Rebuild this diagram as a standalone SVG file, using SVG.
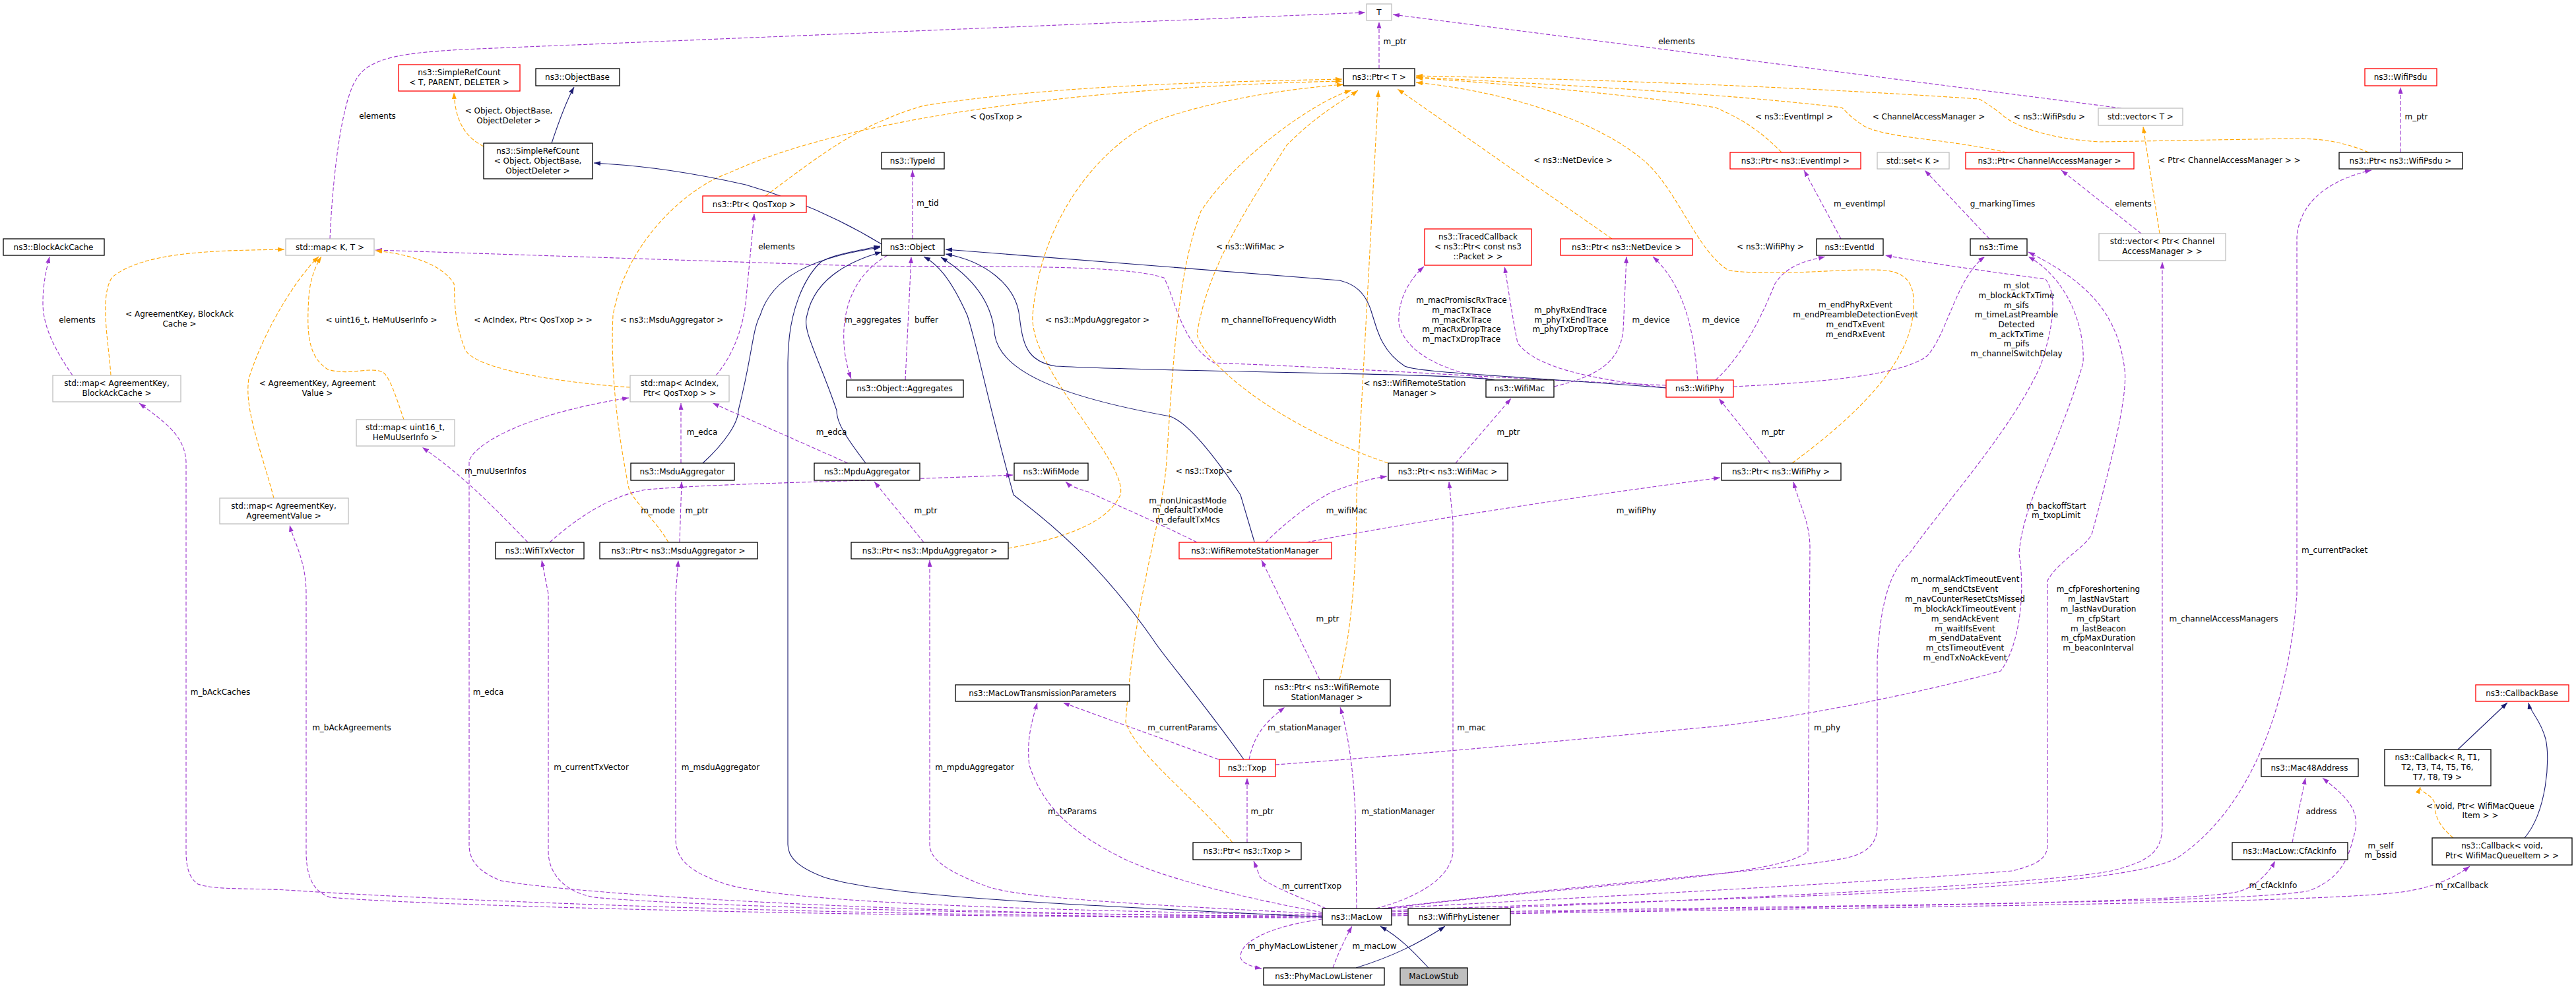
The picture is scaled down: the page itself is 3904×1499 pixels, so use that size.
<svg xmlns="http://www.w3.org/2000/svg" width="3904" height="1499" viewBox="0 0 3904 1499">
<style>
text{font-family:"DejaVu Sans","Liberation Sans",sans-serif;font-size:12px;fill:#000;text-anchor:middle}
.n rect{fill:#fff;stroke:#000;stroke-width:1.3}
.n.r rect{stroke:#ff0000}
.n.g rect{stroke:#bfbfbf}
.n.s rect{fill:#bfbfbf}
#edges path{fill:none;stroke-width:1.1}
.u{stroke:#9a32cd;stroke-dasharray:6,3}
.t{stroke:#ffa500;stroke-dasharray:6,3}
.i{stroke:#191970}
.u{marker-end:url(#mp)}.t{marker-end:url(#mo)}.i{marker-end:url(#mi)}
</style>
<defs>
<marker id="mp" markerUnits="userSpaceOnUse" markerWidth="11" markerHeight="8" refX="10" refY="3.5" orient="auto"><path d="M0,0L10,3.5L0,7z" fill="#9a32cd"/></marker>
<marker id="mo" markerUnits="userSpaceOnUse" markerWidth="11" markerHeight="8" refX="10" refY="3.5" orient="auto"><path d="M0,0L10,3.5L0,7z" fill="#ffa500"/></marker>
<marker id="mi" markerUnits="userSpaceOnUse" markerWidth="11" markerHeight="8" refX="10" refY="3.5" orient="auto"><path d="M0,0L10,3.5L0,7z" fill="#191970"/></marker>
</defs>
<rect width="3904" height="1499" fill="#fff"/>
<g id="edges">
<path class="u" d="M500,362 C505,250 520,150 540,120 C560,85 620,80 700,75 L2069,19"/>
<path class="u" d="M2090,104 L2090,33"/>
<path class="u" d="M3215,164 L2111,22"/>
<path class="u" d="M110,569 C90,540 65,500 65,460 C65,430 70,410 75,389"/>
<path class="u" d="M1085,569 C1110,540 1125,500 1130,460 L1143,324"/>
<path class="u" d="M1383,362 L1383,258"/>
<path class="u" d="M1345,387 C1270,430 1270,520 1290,574"/>
<path class="u" d="M1372,576 L1381,389"/>
<path class="u" d="M2525,584 C2200,570 2100,560 1840,550 C1790,520 1780,450 1764,421 C1700,400 1500,405 1300,403 L569,379"/>
<path class="u" d="M2265,576 C2200,565 2130,540 2120,490 C2118,450 2140,420 2158,404"/>
<path class="u" d="M2527,588 C2420,575 2330,560 2300,520 C2290,470 2285,430 2280,404"/>
<path class="u" d="M2355,586 C2420,570 2455,550 2460,500 L2465,389"/>
<path class="u" d="M2573,576 C2568,520 2560,440 2505,389"/>
<path class="u" d="M2600,576 C2640,540 2670,480 2690,430 C2710,400 2740,395 2766,389"/>
<path class="u" d="M2627,586 C2750,580 2880,570 2920,540 C2950,510 2965,420 3008,389"/>
<path class="u" d="M2790,362 L2734,258"/>
<path class="u" d="M3015,362 L2917,258"/>
<path class="u" d="M3245,354 L3124,258"/>
<path class="u" d="M3638,231 L3638,132"/>
<path class="u" d="M2109,1380 C2600,1360 3200,1355 3300,1300 C3420,1220 3470,1050 3481,900 L3481,360 C3485,300 3540,270 3594,258"/>
<path class="u" d="M2109,1382 C2600,1365 3100,1340 3200,1320 C3260,1305 3277,1290 3277,1250 L3277,397"/>
<path class="u" d="M3474,1277 L3494,1179"/>
<path class="u" d="M2109,1385 C2800,1370 3400,1370 3500,1350 C3550,1330 3560,1300 3570,1256 C3575,1220 3545,1200 3520,1179"/>
<path class="u" d="M2109,1386 C2700,1375 3300,1370 3390,1352 C3420,1345 3440,1320 3448,1305"/>
<path class="u" d="M2109,1388 C2800,1375 3500,1370 3640,1352 C3690,1345 3720,1330 3743,1313"/>
<path class="u" d="M2100,1377 C2400,1340 2700,1330 2740,1290 L2743,830 C2743,790 2725,760 2718,730"/>
<path class="u" d="M2683,702 L2605,604"/>
<path class="u" d="M2085,1377 C2150,1360 2200,1330 2202,1290 L2202,790 L2196,730"/>
<path class="u" d="M2206,702 L2290,604"/>
<path class="u" d="M1918,822 C1950,790 1990,760 2020,745 C2060,730 2080,725 2102,722"/>
<path class="u" d="M1980,822 C2200,780 2450,745 2607,724"/>
<path class="u" d="M1814,822 C1750,790 1680,760 1648,745 C1630,740 1620,735 1615,730"/>
<path class="u" d="M833,822 C880,780 930,750 980,742 C1100,732 1300,730 1535,720"/>
<path class="u" d="M800,822 C740,760 700,720 640,678"/>
<path class="u" d="M1032,702 L1032,611"/>
<path class="u" d="M1285,702 L1080,611"/>
<path class="u" d="M2004,1388 C1500,1390 900,1360 760,1335 C720,1320 711,1300 711,1280 L711,700 C713,680 780,630 953,603"/>
<path class="u" d="M1030,822 L1033,730"/>
<path class="u" d="M1400,822 L1325,730"/>
<path class="u" d="M2004,1390 C1200,1390 600,1360 450,1350 C380,1345 330,1350 300,1340 C285,1330 282,1310 282,1290 L282,700 C280,660 250,640 211,611"/>
<path class="u" d="M2004,1391 C1200,1390 600,1370 500,1360 C470,1350 464,1320 464,1290 L464,900 C464,850 445,820 439,796"/>
<path class="u" d="M2004,1389 C1400,1385 1000,1370 900,1360 C850,1350 831,1320 831,1290 L831,900 L821,849"/>
<path class="u" d="M2004,1387 C1600,1380 1200,1370 1100,1340 C1040,1320 1024,1300 1024,1270 L1024,900 L1028,849"/>
<path class="u" d="M2004,1385 C1700,1370 1550,1360 1500,1345 C1430,1320 1409,1300 1409,1280 L1409,849"/>
<path class="u" d="M2004,1383 C1880,1360 1760,1330 1700,1300 C1620,1260 1580,1220 1560,1160 C1555,1120 1565,1090 1572,1065"/>
<path class="u" d="M1847,1151 L1611,1065"/>
<path class="u" d="M1893,1151 C1900,1120 1910,1100 1947,1072"/>
<path class="u" d="M2056,1377 L2054,1230 C2050,1150 2040,1100 2031,1072"/>
<path class="u" d="M2000,1030 L1912,849"/>
<path class="u" d="M1890,1277 L1890,1179"/>
<path class="u" d="M2010,1377 C1970,1360 1930,1345 1910,1330 L1900,1305"/>
<path class="u" d="M2095,1377 C2400,1340 2700,1320 2800,1300 C2840,1290 2845,1270 2845,1250 L2845,1000 C2850,900 2870,860 2893,840 C2950,760 3050,650 3093,553 C3110,500 3120,450 3100,423 C3000,410 2900,395 2857,387"/>
<path class="u" d="M2100,1377 C2400,1360 2800,1340 3050,1320 C3090,1310 3103,1300 3103,1280 L3103,880 C3120,850 3160,830 3170,810 C3200,700 3225,600 3220,560 C3210,480 3170,430 3074,382"/>
<path class="u" d="M1933,1159 C2200,1140 2500,1110 2600,1101 C2750,1085 2950,1040 3032,1017 C3060,980 3070,900 3060,840 C3065,760 3120,680 3157,550 C3160,490 3130,420 3074,389"/>
<path class="u" d="M2004,1393 C1950,1400 1880,1420 1880,1450 C1880,1460 1900,1466 1912,1468"/>
<path class="u" d="M2020,1467 C2030,1440 2040,1420 2049,1404"/>
<path class="t" d="M733,222 C710,210 690,190 688,140"/>
<path class="t" d="M1160,297 C1250,230 1300,190 1400,160 C1600,130 1800,125 2034,120"/>
<path class="t" d="M1013,822 C995,790 960,760 953,740 C935,650 925,560 929,478 C950,360 1050,280 1103,263 C1300,170 1700,130 2034,123"/>
<path class="t" d="M1528,831 C1620,815 1680,790 1698,750 C1710,700 1560,560 1565,478 C1580,300 1700,200 1760,180 C1850,150 1950,135 2036,128"/>
<path class="t" d="M1868,1277 C1800,1200 1720,1140 1706,1094 C1720,900 1760,800 1768,700 C1780,500 1790,400 1820,320 C1880,230 2000,150 2048,137"/>
<path class="t" d="M2104,702 C1950,650 1830,560 1814,507 C1830,400 1900,300 1950,220 C2000,170 2040,150 2058,137"/>
<path class="t" d="M2030,1030 C2050,950 2056,850 2056,750 L2075,400 L2089,137"/>
<path class="t" d="M2443,362 L2118,135"/>
<path class="t" d="M2716,702 C2800,640 2890,560 2899,478 C2905,430 2890,415 2860,410 C2800,405 2700,420 2620,410 C2570,380 2540,280 2486,239 C2400,170 2250,135 2146,125"/>
<path class="t" d="M2700,231 C2670,200 2640,180 2600,163 C2450,140 2250,125 2146,118"/>
<path class="t" d="M3041,231 C2950,210 2860,210 2825,191 C2800,175 2795,165 2791,163 C2600,140 2300,125 2146,117"/>
<path class="t" d="M3590,231 C3540,210 3500,210 3473,210 L3182,215 C3100,210 3050,190 3032,172 C3010,155 2999,150 2999,150 C2700,130 2400,120 2146,115"/>
<path class="t" d="M3273,354 L3248,192"/>
<path class="t" d="M168,569 C165,520 150,450 170,420 C220,380 330,380 431,378"/>
<path class="t" d="M415,755 C395,680 370,620 377,574 C400,500 450,420 483,389"/>
<path class="t" d="M612,636 C600,600 590,570 580,564 C560,555 530,570 497,560 C465,540 465,500 468,450 C470,420 480,400 487,389"/>
<path class="t" d="M955,587 C850,580 720,560 705,530 C685,480 690,440 688,430 C670,400 620,385 569,380"/>
<path class="t" d="M3718,1270 C3700,1255 3690,1240 3690,1220 C3690,1205 3665,1200 3668,1193"/>
<path class="i" d="M836,217 C845,190 860,150 870,132"/>
<path class="i" d="M1336,370 C1270,330 1200,300 1130,280 C1020,255 950,250 900,247"/>
<path class="i" d="M1065,702 C1100,670 1119,640 1119,622 C1140,540 1140,500 1152,478 C1170,420 1230,390 1334,375"/>
<path class="i" d="M1312,702 C1280,660 1268,640 1268,622 C1240,540 1215,500 1223,478 C1235,420 1290,395 1336,382"/>
<path class="i" d="M1901,821 L1880,750 C1840,690 1800,640 1773,631 C1600,600 1510,560 1507,502 C1500,440 1450,405 1426,390"/>
<path class="i" d="M2265,576 C2200,565 1800,565 1600,555 C1555,548 1550,520 1545,480 C1540,430 1490,395 1433,385"/>
<path class="i" d="M2525,588 C2300,570 2150,565 2129,555 C2090,530 2085,490 2080,478 C2070,440 2050,430 2030,425 L1433,378"/>
<path class="i" d="M1885,1151 C1820,1060 1760,990 1748,970 C1650,830 1560,770 1536,750 C1500,620 1480,520 1466,478 C1440,420 1420,400 1400,389"/>
<path class="i" d="M2004,1390 C1600,1370 1350,1360 1250,1330 C1210,1315 1194,1300 1194,1280 L1194,550 C1194,470 1220,420 1244,397 C1265,385 1300,380 1334,373"/>
<path class="i" d="M2165,1467 C2140,1440 2120,1420 2092,1404"/>
<path class="i" d="M2055,1467 C2110,1450 2150,1430 2190,1404"/>
<path class="i" d="M3725,1136 L3800,1065"/>
<path class="i" d="M3826,1270 C3860,1230 3865,1150 3858,1120 C3850,1090 3835,1080 3832,1065"/>
</g>
<g id="labels">
<text x="572" y="180">elements</text>
<text x="771" y="172">&lt; Object, ObjectBase,</text><text x="771" y="187">ObjectDeleter &gt;</text>
<text x="1177" y="378">elements</text>
<text x="117" y="489">elements</text>
<text x="272" y="480">&lt; AgreementKey, BlockAck</text><text x="272" y="495">Cache &gt;</text>
<text x="578" y="489">&lt; uint16_t, HeMuUserInfo &gt;</text>
<text x="808" y="489">&lt; AcIndex, Ptr&lt; QosTxop &gt; &gt;</text>
<text x="1018" y="489">&lt; ns3::MsduAggregator &gt;</text>
<text x="481" y="585">&lt; AgreementKey, Agreement</text><text x="481" y="600">Value &gt;</text>
<text x="1064" y="659">m_edca</text>
<text x="1260" y="659">m_edca</text>
<text x="751" y="718">m_muUserInfos</text>
<text x="2114" y="67">m_ptr</text>
<text x="2541" y="67">elements</text>
<text x="1510" y="181">&lt; QosTxop &gt;</text>
<text x="1406" y="312">m_tid</text>
<text x="1323" y="489">m_aggregates</text>
<text x="1404" y="489">buffer</text>
<text x="1895" y="378">&lt; ns3::WifiMac &gt;</text>
<text x="1663" y="489">&lt; ns3::MpduAggregator &gt;</text>
<text x="1938" y="489">m_channelToFrequencyWidth</text>
<text x="2215" y="459">m_macPromiscRxTrace</text><text x="2215" y="474">m_macTxTrace</text><text x="2215" y="489">m_macRxTrace</text><text x="2215" y="503">m_macRxDropTrace</text><text x="2215" y="518">m_macTxDropTrace</text>
<text x="2380" y="474">m_phyRxEndTrace</text><text x="2380" y="489">m_phyTxEndTrace</text><text x="2380" y="503">m_phyTxDropTrace</text>
<text x="2502" y="489">m_device</text>
<text x="2608" y="489">m_device</text>
<text x="2384" y="247">&lt; ns3::NetDevice &gt;</text>
<text x="2144" y="585">&lt; ns3::WifiRemoteStation</text><text x="2144" y="600">Manager &gt;</text>
<text x="2286" y="659">m_ptr</text>
<text x="1825" y="718">&lt; ns3::Txop &gt;</text>
<text x="2719" y="181">&lt; ns3::EventImpl &gt;</text>
<text x="2923" y="181">&lt; ChannelAccessManager &gt;</text>
<text x="3106" y="181">&lt; ns3::WifiPsdu &gt;</text>
<text x="3662" y="181">m_ptr</text>
<text x="3379" y="247">&lt; Ptr&lt; ChannelAccessManager &gt; &gt;</text>
<text x="2818" y="313">m_eventImpl</text>
<text x="3035" y="313">g_markingTimes</text>
<text x="3233" y="313">elements</text>
<text x="2683" y="378">&lt; ns3::WifiPhy &gt;</text>
<text x="2812" y="466">m_endPhyRxEvent</text><text x="2812" y="481">m_endPreambleDetectionEvent</text><text x="2812" y="496">m_endTxEvent</text><text x="2812" y="511">m_endRxEvent</text>
<text x="3056" y="437">m_slot</text><text x="3056" y="452">m_blockAckTxTime</text><text x="3056" y="467">m_sifs</text><text x="3056" y="481">m_timeLastPreamble</text><text x="3056" y="496">Detected</text><text x="3056" y="511">m_ackTxTime</text><text x="3056" y="525">m_pifs</text><text x="3056" y="540">m_channelSwitchDelay</text>
<text x="2687" y="659">m_ptr</text>
<text x="997" y="778">m_mode</text>
<text x="1056" y="778">m_ptr</text>
<text x="334" y="1053">m_bAckCaches</text>
<text x="740" y="1053">m_edca</text>
<text x="533" y="1107">m_bAckAgreements</text>
<text x="896" y="1167">m_currentTxVector</text>
<text x="1092" y="1167">m_msduAggregator</text>
<text x="1403" y="778">m_ptr</text>
<text x="1800" y="763">m_nonUnicastMode</text><text x="1800" y="777">m_defaultTxMode</text><text x="1800" y="792">m_defaultTxMcs</text>
<text x="2041" y="778">m_wifiMac</text>
<text x="2480" y="778">m_wifiPhy</text>
<text x="2012" y="942">m_ptr</text>
<text x="1792" y="1107">m_currentParams</text>
<text x="1977" y="1107">m_stationManager</text>
<text x="2230" y="1107">m_mac</text>
<text x="1477" y="1167">m_mpduAggregator</text>
<text x="1625" y="1234">m_txParams</text>
<text x="1913" y="1234">m_ptr</text>
<text x="2119" y="1234">m_stationManager</text>
<text x="1988" y="1347">m_currentTxop</text>
<text x="1959" y="1438">m_phyMacLowListener</text>
<text x="2083" y="1438">m_macLow</text>
<text x="3116" y="771">m_backoffStart</text><text x="3116" y="785">m_txopLimit</text>
<text x="3538" y="838">m_currentPacket</text>
<text x="2978" y="882">m_normalAckTimeoutEvent</text><text x="2978" y="897">m_sendCtsEvent</text><text x="2978" y="912">m_navCounterResetCtsMissed</text><text x="2978" y="927">m_blockAckTimeoutEvent</text><text x="2978" y="942">m_sendAckEvent</text><text x="2978" y="957">m_waitIfsEvent</text><text x="2978" y="971">m_sendDataEvent</text><text x="2978" y="986">m_ctsTimeoutEvent</text><text x="2978" y="1001">m_endTxNoAckEvent</text>
<text x="3180" y="897">m_cfpForeshortening</text><text x="3180" y="912">m_lastNavStart</text><text x="3180" y="927">m_lastNavDuration</text><text x="3180" y="942">m_cfpStart</text><text x="3180" y="957">m_lastBeacon</text><text x="3180" y="971">m_cfpMaxDuration</text><text x="3180" y="986">m_beaconInterval</text>
<text x="3370" y="942">m_channelAccessManagers</text>
<text x="2769" y="1107">m_phy</text>
<text x="3518" y="1234">address</text>
<text x="3608" y="1286">m_self</text><text x="3608" y="1300">m_bssid</text>
<text x="3759" y="1226">&lt; void, Ptr&lt; WifiMacQueue</text><text x="3759" y="1240">Item &gt; &gt;</text>
<text x="3445" y="1346">m_cfAckInfo</text>
<text x="3731" y="1346">m_rxCallback</text>
</g>
<g id="n1" class="n g"><rect x="2071" y="6" width="38" height="25"/><text x="2090" y="23">T</text></g>
<g id="n2" class="n"><rect x="2036" y="104" width="108" height="26"/><text x="2090" y="121">ns3::Ptr&lt; T &gt;</text></g>
<g id="n3" class="n r"><rect x="604" y="98" width="184" height="40"/><text x="696" y="114">ns3::SimpleRefCount</text><text x="696" y="129">&lt; T, PARENT, DELETER &gt;</text></g>
<g id="n4" class="n"><rect x="812" y="104" width="127" height="26"/><text x="875" y="121">ns3::ObjectBase</text></g>
<g id="n5" class="n"><rect x="733" y="217" width="165" height="54"/><text x="815" y="233">ns3::SimpleRefCount</text><text x="815" y="248">&lt; Object, ObjectBase,</text><text x="815" y="263">ObjectDeleter &gt;</text></g>
<g id="n6" class="n r"><rect x="1065" y="297" width="157" height="25"/><text x="1143" y="314">ns3::Ptr&lt; QosTxop &gt;</text></g>
<g id="n7" class="n"><rect x="5" y="362" width="153" height="25"/><text x="81" y="379">ns3::BlockAckCache</text></g>
<g id="n8" class="n g"><rect x="433" y="362" width="134" height="25"/><text x="500" y="379">std::map&lt; K, T &gt;</text></g>
<g id="n9" class="n"><rect x="1336" y="231" width="95" height="25"/><text x="1383" y="248">ns3::TypeId</text></g>
<g id="n10" class="n"><rect x="1336" y="362" width="95" height="25"/><text x="1383" y="379">ns3::Object</text></g>
<g id="n11" class="n r"><rect x="2159" y="347" width="162" height="55"/><text x="2240" y="363">ns3::TracedCallback</text><text x="2240" y="378">&lt; ns3::Ptr&lt; const ns3</text><text x="2240" y="393">::Packet &gt; &gt;</text></g>
<g id="n12" class="n r"><rect x="2365" y="362" width="200" height="25"/><text x="2465" y="379">ns3::Ptr&lt; ns3::NetDevice &gt;</text></g>
<g id="n13" class="n r"><rect x="2622" y="231" width="198" height="25"/><text x="2721" y="248">ns3::Ptr&lt; ns3::EventImpl &gt;</text></g>
<g id="n14" class="n g"><rect x="2845" y="231" width="109" height="25"/><text x="2899" y="248">std::set&lt; K &gt;</text></g>
<g id="n15" class="n r"><rect x="2979" y="231" width="255" height="25"/><text x="3106" y="248">ns3::Ptr&lt; ChannelAccessManager &gt;</text></g>
<g id="n16" class="n g"><rect x="3180" y="164" width="128" height="26"/><text x="3244" y="181">std::vector&lt; T &gt;</text></g>
<g id="n17" class="n r"><rect x="3584" y="104" width="109" height="26"/><text x="3638" y="121">ns3::WifiPsdu</text></g>
<g id="n18" class="n"><rect x="3545" y="231" width="187" height="25"/><text x="3638" y="248">ns3::Ptr&lt; ns3::WifiPsdu &gt;</text></g>
<g id="n19" class="n"><rect x="2753" y="362" width="101" height="25"/><text x="2803" y="379">ns3::EventId</text></g>
<g id="n20" class="n"><rect x="2986" y="362" width="86" height="25"/><text x="3029" y="379">ns3::Time</text></g>
<g id="n21" class="n g"><rect x="3181" y="354" width="192" height="41"/><text x="3277" y="370">std::vector&lt; Ptr&lt; Channel</text><text x="3277" y="385">AccessManager &gt; &gt;</text></g>
<g id="n22" class="n g"><rect x="80" y="569" width="194" height="40"/><text x="177" y="585">std::map&lt; AgreementKey,</text><text x="177" y="600">BlockAckCache &gt;</text></g>
<g id="n23" class="n g"><rect x="955" y="569" width="150" height="40"/><text x="1030" y="585">std::map&lt; AcIndex,</text><text x="1030" y="600">Ptr&lt; QosTxop &gt; &gt;</text></g>
<g id="n24" class="n g"><rect x="540" y="636" width="149" height="40"/><text x="614" y="652">std::map&lt; uint16_t,</text><text x="614" y="667">HeMuUserInfo &gt;</text></g>
<g id="n25" class="n"><rect x="1283" y="576" width="177" height="26"/><text x="1371" y="593">ns3::Object::Aggregates</text></g>
<g id="n26" class="n"><rect x="2252" y="576" width="103" height="26"/><text x="2303" y="593">ns3::WifiMac</text></g>
<g id="n27" class="n r"><rect x="2525" y="576" width="102" height="26"/><text x="2576" y="593">ns3::WifiPhy</text></g>
<g id="n28" class="n"><rect x="956" y="702" width="157" height="26"/><text x="1034" y="719">ns3::MsduAggregator</text></g>
<g id="n29" class="n"><rect x="1234" y="702" width="160" height="26"/><text x="1314" y="719">ns3::MpduAggregator</text></g>
<g id="n30" class="n"><rect x="1537" y="702" width="112" height="26"/><text x="1593" y="719">ns3::WifiMode</text></g>
<g id="n31" class="n"><rect x="2104" y="702" width="181" height="26"/><text x="2194" y="719">ns3::Ptr&lt; ns3::WifiMac &gt;</text></g>
<g id="n32" class="n"><rect x="2609" y="702" width="181" height="26"/><text x="2699" y="719">ns3::Ptr&lt; ns3::WifiPhy &gt;</text></g>
<g id="n33" class="n g"><rect x="333" y="755" width="195" height="39"/><text x="430" y="771">std::map&lt; AgreementKey,</text><text x="430" y="786">AgreementValue &gt;</text></g>
<g id="n34" class="n"><rect x="751" y="822" width="134" height="25"/><text x="818" y="839">ns3::WifiTxVector</text></g>
<g id="n35" class="n"><rect x="909" y="822" width="239" height="25"/><text x="1028" y="839">ns3::Ptr&lt; ns3::MsduAggregator &gt;</text></g>
<g id="n36" class="n"><rect x="1290" y="822" width="238" height="25"/><text x="1409" y="839">ns3::Ptr&lt; ns3::MpduAggregator &gt;</text></g>
<g id="n37" class="n r"><rect x="1787" y="822" width="231" height="25"/><text x="1902" y="839">ns3::WifiRemoteStationManager</text></g>
<g id="n38" class="n"><rect x="1448" y="1038" width="264" height="25"/><text x="1580" y="1055">ns3::MacLowTransmissionParameters</text></g>
<g id="n39" class="n"><rect x="1915" y="1030" width="192" height="40"/><text x="2011" y="1046">ns3::Ptr&lt; ns3::WifiRemote</text><text x="2011" y="1061">StationManager &gt;</text></g>
<g id="n40" class="n r"><rect x="1848" y="1151" width="85" height="26"/><text x="1890" y="1168">ns3::Txop</text></g>
<g id="n41" class="n"><rect x="1808" y="1277" width="164" height="26"/><text x="1890" y="1294">ns3::Ptr&lt; ns3::Txop &gt;</text></g>
<g id="n42" class="n"><rect x="2004" y="1377" width="105" height="25"/><text x="2056" y="1394">ns3::MacLow</text></g>
<g id="n43" class="n"><rect x="2134" y="1377" width="155" height="25"/><text x="2211" y="1394">ns3::WifiPhyListener</text></g>
<g id="n44" class="n"><rect x="1915" y="1467" width="183" height="26"/><text x="2006" y="1484">ns3::PhyMacLowListener</text></g>
<g id="n45" class="n s"><rect x="2122" y="1467" width="102" height="26"/><text x="2173" y="1484">MacLowStub</text></g>
<g id="n46" class="n r"><rect x="3752" y="1038" width="141" height="25"/><text x="3822" y="1055">ns3::CallbackBase</text></g>
<g id="n47" class="n"><rect x="3614" y="1136" width="161" height="55"/><text x="3694" y="1152">ns3::Callback&lt; R, T1,</text><text x="3694" y="1167">T2, T3, T4, T5, T6,</text><text x="3694" y="1182">T7, T8, T9 &gt;</text></g>
<g id="n48" class="n"><rect x="3427" y="1150" width="147" height="27"/><text x="3500" y="1168">ns3::Mac48Address</text></g>
<g id="n49" class="n"><rect x="3383" y="1277" width="175" height="26"/><text x="3470" y="1294">ns3::MacLow::CfAckInfo</text></g>
<g id="n50" class="n"><rect x="3686" y="1270" width="212" height="41"/><text x="3792" y="1286">ns3::Callback&lt; void,</text><text x="3792" y="1301">Ptr&lt; WifiMacQueueItem &gt; &gt;</text></g>
</svg>
